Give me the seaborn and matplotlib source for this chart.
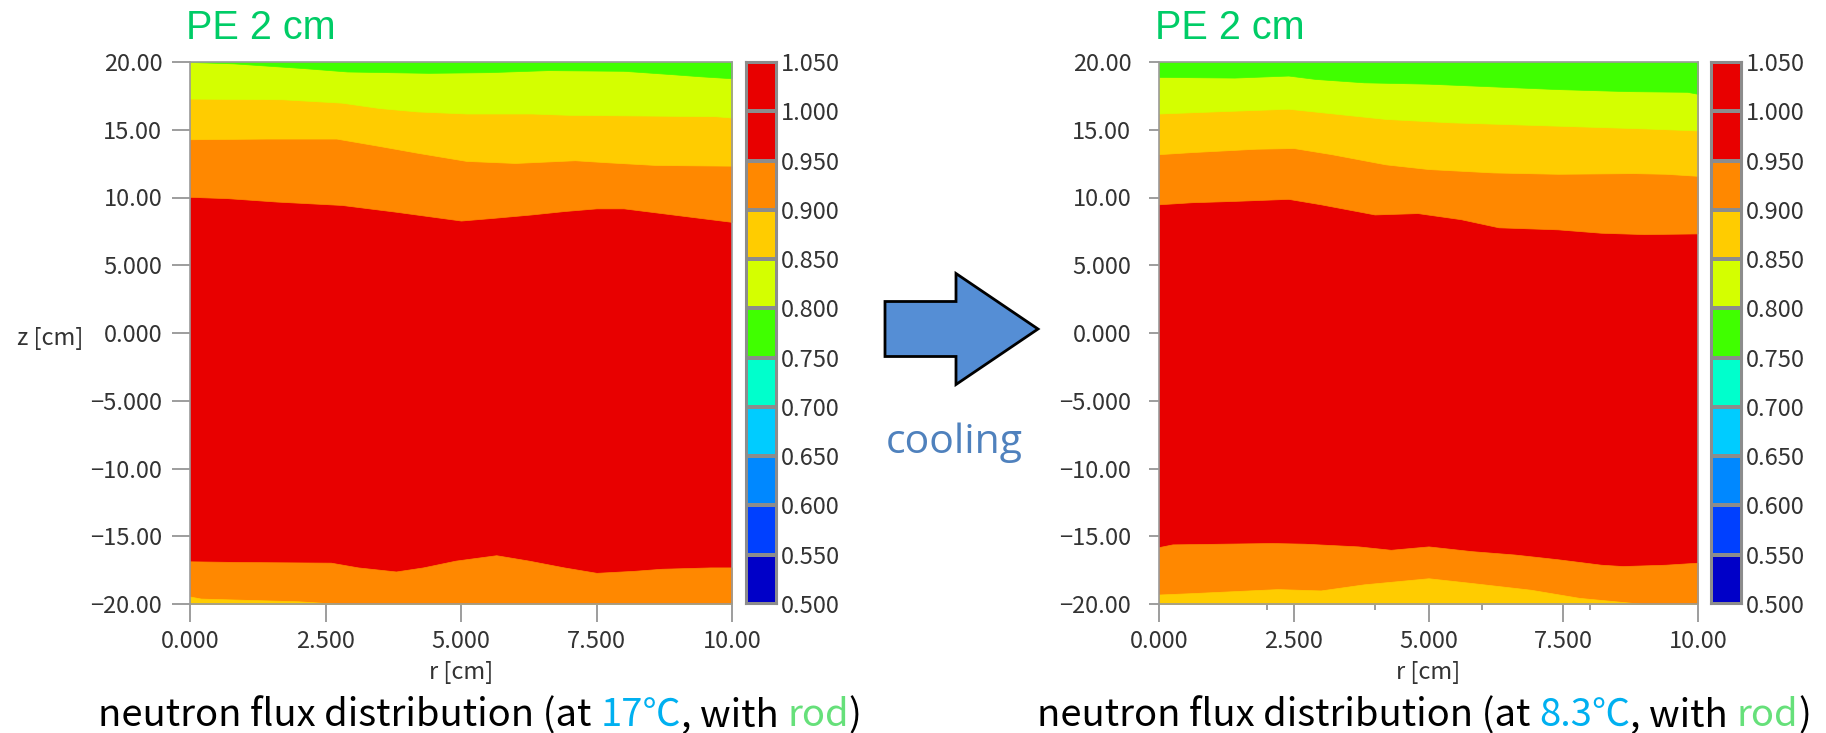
import numpy as np
import matplotlib
matplotlib.use("Agg")
import matplotlib.pyplot as plt
from matplotlib.colors import ListedColormap
from matplotlib.patches import FancyArrow
from matplotlib.offsetbox import TextArea, HPacker, AnnotationBbox
import seaborn as sns

# colour scale: 0.50 ... 1.05 in steps of 0.05
level_labels = ['0.500', '0.550', '0.600', '0.650', '0.700', '0.750',
                '0.800', '0.850', '0.900', '0.950', '1.000', '1.050']
level_colors = ['#0000c8', '#0040ff', '#0088ff', '#00ccff', '#00ffcc', '#40ff00',
                '#d4ff00', '#ffcc00', '#ff8800', '#e80000', '#e80000']

xtick_vals = [0, 2.5, 5, 7.5, 10]
xtick_labels = ['0.000', '2.500', '5.000', '7.500', '10.00']
ytick_vals = [20, 15, 10, 5, 0, -5, -10, -15, -20]
ytick_labels = ['20.00', '15.00', '10.00', '5.000', '0.000',
                '\u22125.000', '\u221210.00', '\u221215.00', '\u221220.00']

# contour boundaries, 17 C case (left)
r17_080 = [0, 0.8, 2.1, 2.9, 4.4, 5.5, 6.6, 8.0, 8.9, 9.4, 10]
z17_080 = [20.0, 19.9, 19.55, 19.3, 19.2, 19.25, 19.4, 19.35, 19.1, 18.95, 18.8]
r17_085 = [0, 1.7, 2.8, 3.5, 4.2, 5.1, 6.3, 7.0, 8.4, 9.7, 10]
z17_085 = [17.3, 17.25, 17.0, 16.6, 16.35, 16.2, 16.2, 16.1, 16.05, 16.0, 15.9]
r17_090 = [0, 1.4, 2.7, 3.5, 4.2, 5.1, 6.0, 7.1, 7.7, 8.6, 10]
z17_090 = [14.3, 14.35, 14.35, 13.8, 13.3, 12.7, 12.55, 12.75, 12.6, 12.4, 12.35]
r17_095 = [0, 0.7, 1.6, 2.8, 3.8, 5.0, 5.6, 6.3, 6.9, 7.5, 8.0, 8.7, 9.5, 10]
z17_095 = [10.05, 9.95, 9.7, 9.45, 8.95, 8.3, 8.5, 8.75, 9.0, 9.2, 9.2, 8.85, 8.45, 8.2]
r17_095b = [0, 0.9, 2.6, 3.1, 3.8, 4.3, 4.9, 5.65, 6.25, 6.9, 7.5, 8.2, 8.7, 9.6, 10]
z17_095b = [-16.85, -16.9, -16.95, -17.3, -17.6, -17.3, -16.8, -16.4, -16.8,
            -17.3, -17.7, -17.55, -17.4, -17.3, -17.3]
r17_090b = [0, 0.2, 1.1, 2.0, 2.6, 2.8, 10]
z17_090b = [-19.45, -19.6, -19.7, -19.8, -19.95, -20.0, -20.0]

# 8.3 C case (right)
r83_080 = [0, 1.4, 2.4, 2.9, 3.8, 5.0, 6.2, 7.4, 8.7, 9.8, 10]
z83_080 = [18.9, 18.85, 19.0, 18.75, 18.5, 18.4, 18.2, 18.0, 17.85, 17.8, 17.65]
r83_085 = [0, 1.0, 2.4, 3.0, 4.2, 5.4, 6.6, 7.8, 9.0, 10]
z83_085 = [16.2, 16.35, 16.55, 16.3, 15.8, 15.55, 15.4, 15.25, 15.1, 14.95]
r83_090 = [0, 0.6, 1.8, 2.5, 3.2, 4.2, 5.0, 6.2, 7.4, 8.8, 9.4, 10]
z83_090 = [13.2, 13.35, 13.6, 13.65, 13.2, 12.45, 12.1, 11.85, 11.75, 11.8, 11.75, 11.6]
r83_095 = [0, 0.6, 1.4, 2.4, 3.0, 4.0, 4.8, 5.6, 6.3, 7.4, 8.2, 9.0, 10]
z83_095 = [9.5, 9.65, 9.75, 9.9, 9.5, 8.75, 8.85, 8.4, 7.8, 7.65, 7.4, 7.3, 7.35]
r83_095b = [0, 0.25, 2.1, 2.7, 3.7, 4.3, 5.0, 5.8, 6.6, 7.4, 8.2, 8.6, 9.4, 10]
z83_095b = [-15.8, -15.6, -15.5, -15.55, -15.75, -16.0, -15.75, -16.1, -16.35,
            -16.7, -17.1, -17.2, -17.1, -16.95]
r83_090b = [0, 0.6, 2.2, 3.0, 3.8, 5.0, 5.8, 6.9, 7.8, 8.6, 9.0, 10]
z83_090b = [-19.3, -19.2, -18.9, -19.0, -18.55, -18.1, -18.45, -18.95, -19.55, -19.85, -20.0, -20.0]

caption_left = [('neutron flux distribution (at ', 'black'), ('17\u2103', '#00b0f0'),
                (', with ', 'black'), ('rod', '#66e07a'), (')', 'black')]
caption_right = [('neutron flux distribution (at ', 'black'), ('8.3\u2103', '#00b0f0'),
                 (', with ', 'black'), ('rod', '#66e07a'), (')', 'black')]

sns.set_theme(style="ticks")
plt.rcParams['font.family'] = ['Noto Sans CJK JP', 'DejaVu Sans']
JP = ['Noto Sans CJK JP', 'DejaVu Sans']
W, H = 1826, 733
fig = plt.figure(figsize=(W / 100, H / 100), dpi=100)

def fx(px):
    return px / W

def fy(py):
    return 1 - py / H

z_top, z_bot = 20, -20
c_red, c_orange, c_yellow, c_yg, c_green = level_colors[9], level_colors[8], level_colors[7], level_colors[6], level_colors[5]


def draw_field(ax, top, bottom, ytick_len, ytick_pad):
    ax.set_facecolor(c_red)
    # top bands stacked downward from z=20
    for r, z, col in top:
        ax.fill_between(r, z, z_top, color=col, lw=0.5, ec=col)
    for r, z, col in bottom:
        ax.fill_between(r, z_bot, z, color=col, lw=0.5, ec=col)
    ax.set_xlim(0, 10)
    ax.set_ylim(z_bot, z_top)
    ax.set_xticks(xtick_vals, xtick_labels)
    ax.set_yticks(ytick_vals, ytick_labels)
    ax.tick_params(axis='x', length=13, width=1.2, color='#8c8c8c', pad=6,
                   labelsize=17, labelcolor='#333333')
    ax.tick_params(axis='y', length=ytick_len, width=1.2, color='#8c8c8c', pad=ytick_pad,
                   labelsize=17, labelcolor='#333333')
    for sp in ax.spines.values():
        sp.set_color('#9a9a9a')
        sp.set_linewidth(1.2)
    ax.set_xlabel('r [cm]', fontsize=17, color='#333333')
    ax.xaxis.set_label_coords(0.5, -0.127)
    ax.xaxis.label.set_va('center')


def draw_cbar(cax):
    vals = np.arange(len(level_colors))[::-1].reshape(-1, 1)
    sns.heatmap(vals, ax=cax, cmap=ListedColormap(level_colors), vmin=-0.5,
                vmax=len(level_colors) - 0.5, cbar=False, linewidths=1.5,
                linecolor='#8c8c8c', xticklabels=False, yticklabels=False)
    cax.yaxis.tick_right()
    cax.set_yticks(np.arange(len(level_labels)), level_labels[::-1], rotation=0)
    cax.tick_params(axis='y', length=0, pad=3, labelsize=17, labelcolor='#333333')
    cax.set_xticks([])
    for sp in cax.spines.values():
        sp.set_visible(True)
        sp.set_color('#8c8c8c')
        sp.set_linewidth(1.5)


ax_top, ax_bottom = 62, 604
axL = fig.add_axes([fx(190), fy(ax_bottom), fx(542), fy(ax_top) - fy(ax_bottom)])
caxL = fig.add_axes([fx(746), fy(ax_bottom), fx(31), fy(ax_top) - fy(ax_bottom)])
axR = fig.add_axes([fx(1159), fy(ax_bottom), fx(539), fy(ax_top) - fy(ax_bottom)])
caxR = fig.add_axes([fx(1711), fy(ax_bottom), fx(31), fy(ax_top) - fy(ax_bottom)])

draw_field(axL,
           [(r17_095, z17_095, c_orange), (r17_090, z17_090, c_yellow),
            (r17_085, z17_085, c_yg), (r17_080, z17_080, c_green)],
           [(r17_095b, z17_095b, c_orange), (r17_090b, z17_090b, c_yellow)],
           13, 7)
draw_field(axR,
           [(r83_095, z83_095, c_orange), (r83_090, z83_090, c_yellow),
            (r83_085, z83_085, c_yg), (r83_080, z83_080, c_green)],
           [(r83_095b, z83_095b, c_orange), (r83_090b, z83_090b, c_yellow)],
           7, 13)
axR.set_xticks([2, 4, 6, 8], minor=True)
axR.tick_params(axis='x', which='minor', length=4, width=1.2, color='#8c8c8c')

axL.set_ylabel('z [cm]', rotation=0, fontsize=17, color='#333333')
axL.yaxis.set_label_coords(-0.258, 0.49)
axL.yaxis.label.set_ha('center')
axL.yaxis.label.set_va('center')

draw_cbar(caxL)
draw_cbar(caxR)

# titles
for x0 in (186, 1155):
    fig.text(fx(x0), fy(28), 'PE 2 cm', fontsize=28.5, color='#00cc66',
             family=['Liberation Sans', 'DejaVu Sans'], ha='left', va='center')

# arrow and "cooling"
arrow = FancyArrow(8.85, (H - 329) / 100, 1.53, 0, width=0.55, head_width=1.11,
                   head_length=0.82, length_includes_head=True,
                   transform=fig.dpi_scale_trans, fc='#558ed5', ec='black', lw=2)
fig.patches.append(arrow)
fig.text(fx(954), fy(443), 'cooling', fontsize=29.5, color='#4f81bd',
         family=['Open Sans', 'DejaVu Sans'], ha='center', va='center')

# captions with coloured parts


def caption(xc, parts):
    boxes = [TextArea(t, textprops=dict(color=c, fontsize=27.5, family=JP)) for t, c in parts]
    pack = HPacker(children=boxes, align='baseline', pad=0, sep=0)
    ab = AnnotationBbox(pack, (fx(xc), fy(716)), xycoords='figure fraction',
                        frameon=False, box_alignment=(0.5, 0.5), pad=0)
    fig.add_artist(ab)


caption(480, caption_left)
caption(1424, caption_right)

fig.savefig('out.png', dpi=100)
